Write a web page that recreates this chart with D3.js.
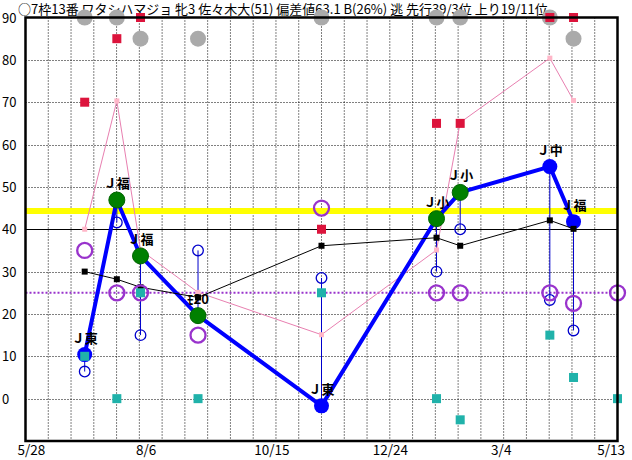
<!DOCTYPE html>
<html><head><meta charset="utf-8">
<script src="https://cdn.jsdelivr.net/npm/d3@7"></script>
<style>
html,body{margin:0;padding:0;background:#fff;}
svg{display:block;}
text{font-family:"Noto Sans CJK JP","DejaVu Sans",sans-serif;}
</style></head>
<body><svg id="c" width="632" height="460"></svg>
<script>
// ---- data ----
const titleText = "○7枠13番 ワタシハマジョ 牝3 佐々木大(51)  偏差値63.1 B(26%) 逃 先行39/3位 上り19/11位";
const raceDates = ["2022-07-02","2022-07-21","2022-08-04","2022-09-07","2022-11-19","2023-01-26","2023-02-09","2023-04-03","2023-04-17"];
const nextDate = "2023-05-13";
const raceLabels = ["Ｊ東","Ｊ福","Ｊ福","ﾓ20","Ｊ東","Ｊ小","Ｊ小","Ｊ中","Ｊ福"];
const mainValues = [10.4, 46.9, 33.7, 19.6, -1.7, 42.5, 48.7, 54.8, 41.8];
const highlighted = [false, true, true, true, false, true, true, false, false];
const blackValues = [30.0, 28.2, 26.3, 23.9, 36.1, 38.0, 36.1, 42.1, 40.1];
const pinkValues = [40.0, 70.3, 35.1, 25.1, 15.1, 35.1, 65.2, 80.4, 70.4];
const redValues = [70, 85, 90, null, 40, 65, 65, 90, 90];
const grayValues = [90, 90, 85, 85, 90, 90, 90, 90, 85];
const blueSmallValues = [6.4, 41.6, 15, 35, 28.5, 30, 40, 23.3, 16.1];
const purpleValues = [35, 25, 25, 15, 45, 25, 25, 25, 22.5, 25];   // last = next race
const tealValues = [10, 0, 25, 0, 25, 0, -5, 15, 5, 0];            // last = next race
const refYellow = 44.3, refBlack = 40, refPurple = 25;
const xTickDates = ["2022-05-28","2022-08-06","2022-10-15","2022-12-24","2023-03-04","2023-05-13"];
const xTickLabels = ["5/28","8/6","10/15","12/24","3/4","5/13"];
const yTickValues = [90,80,70,60,50,40,30,20,10,0];

// ---- scales ----
const parse = d3.utcParse("%Y-%m-%d");
const L = 25.5, R = 617.5, T = 17.5, B = 441;
const x = d3.scaleUtc().domain([parse(xTickDates[0]), parse(xTickDates[xTickDates.length-1])]).range([L, R]);
const y = d3.scaleLinear().domain([-10, 90]).range([B, T]);
const svg = d3.select("#c");

const races = raceDates.map((d,i)=>({date:parse(d), v:mainValues[i], hl:highlighted[i], label:raceLabels[i],
  black:blackValues[i], pink:pinkValues[i], red:redValues[i], gray:grayValues[i], small:blueSmallValues[i]}));
const allDates = raceDates.concat([nextDate]).map(parse);

// title (fit to width of reference)
const title = svg.append("text").attr("x",18).attr("y",14).attr("font-size",13).text(titleText);
const w0 = title.node().getComputedTextLength();
title.attr("font-size", Math.min(14, 13*530/w0));

// grid
const g = svg.append("g");
const nDiv = 26;
const dom = x.domain();
d3.range(1,nDiv).forEach(k=>{
  const t = new Date(+dom[0] + (dom[1]-dom[0])*k/nDiv);
  g.append("line").attr("x1",x(t)).attr("x2",x(t)).attr("y1",T).attr("y2",B)
    .attr("stroke","#000").attr("stroke-width",1).attr("stroke-dasharray","1,2");
});
yTickValues.filter(v=>v<90 && v!==refBlack).forEach(v=>{
  g.append("line").attr("x1",L).attr("x2",R).attr("y1",Math.round(y(v))+0.5).attr("y2",Math.round(y(v))+0.5)
    .attr("stroke","#000").attr("stroke-width",1).attr("stroke-dasharray","1,2");
});

// reference lines
svg.append("line").attr("x1",L).attr("x2",R).attr("y1",y(refYellow)).attr("y2",y(refYellow))
  .attr("stroke","#ffff00").attr("stroke-width",6);
svg.append("line").attr("x1",L).attr("x2",R).attr("y1",Math.round(y(refBlack))+0.5).attr("y2",Math.round(y(refBlack))+0.5)
  .attr("stroke","#000").attr("stroke-width",1);
svg.append("line").attr("x1",L).attr("x2",R).attr("y1",y(refPurple)).attr("y2",y(refPurple))
  .attr("stroke","#9933cc").attr("stroke-width",2).attr("stroke-dasharray","2,2");

// y labels
svg.append("g").selectAll("text").data(yTickValues).join("text")
  .attr("x",2).attr("y",d=>y(d)+5).attr("font-size",13).text(d=>d);

// x labels
svg.append("g").selectAll("text").data(xTickDates).join("text")
  .attr("x",(d,i)=> i===xTickDates.length-1 ? 625 : x(parse(d))-8)
  .attr("text-anchor",(d,i)=> i===xTickDates.length-1 ? "end":"start")
  .attr("y",455).attr("font-size",13.5).text((d,i)=>xTickLabels[i]);

// vertical thin lines from race value to small circle
svg.append("g").selectAll("line").data(races).join("line")
  .attr("x1",d=>x(d.date)).attr("x2",d=>x(d.date)).attr("y1",d=>y(d.v)).attr("y2",d=>y(d.small))
  .attr("stroke","#0000cc").attr("stroke-width",1);

// pink line
svg.append("path").datum(races).attr("fill","none").attr("stroke","#e87fb0").attr("stroke-width",1)
  .attr("d",d3.line().x(d=>x(d.date)).y(d=>y(d.pink)));
svg.append("g").selectAll("rect").data(races).join("rect")
  .attr("x",d=>x(d.date)-2.5).attr("y",d=>y(d.pink)-2.5).attr("width",5).attr("height",5).attr("fill","#ffb6c8");

// main line
svg.append("path").datum(races).attr("fill","none").attr("stroke","#0000ff").attr("stroke-width",4)
  .attr("stroke-linejoin","round")
  .attr("d",d3.line().x(d=>x(d.date)).y(d=>y(d.v)));
svg.append("g").selectAll("circle").data(races).join("circle")
  .attr("cx",d=>x(d.date)).attr("cy",d=>y(d.v)).attr("r",d=>d.hl?8:7.5)
  .attr("fill",d=>d.hl?"#008000":"#0000ff").attr("stroke",d=>d.hl?"#006400":"none").attr("stroke-width",1);

// labels
svg.append("g").selectAll("text").data(races).join("text")
  .attr("x",d=>x(d.date)).attr("y",d=>y(d.v)-12).attr("text-anchor","middle")
  .attr("font-size",13).attr("font-weight","bold").text(d=>d.label);

// black line
svg.append("path").datum(races).attr("fill","none").attr("stroke","#000").attr("stroke-width",1)
  .attr("d",d3.line().x(d=>x(d.date)).y(d=>y(d.black)));
svg.append("g").selectAll("rect").data(races).join("rect")
  .attr("x",d=>x(d.date)-3).attr("y",d=>y(d.black)-3).attr("width",6).attr("height",6).attr("fill","#000");

// small blue hollow circles
svg.append("g").selectAll("circle").data(races).join("circle")
  .attr("cx",d=>x(d.date)).attr("cy",d=>y(d.small)).attr("r",5.3)
  .attr("fill","none").attr("stroke","#0000cc").attr("stroke-width",1.3);

// purple hollow circles
svg.append("g").selectAll("circle").data(purpleValues).join("circle")
  .attr("cx",(d,i)=>x(allDates[i])).attr("cy",d=>y(d)).attr("r",7.5)
  .attr("fill","none").attr("stroke","#9933cc").attr("stroke-width",2.3);

// teal squares
svg.append("g").selectAll("rect").data(tealValues).join("rect")
  .attr("x",(d,i)=>x(allDates[i])-4.5).attr("y",d=>y(d)-4.5).attr("width",9).attr("height",9).attr("fill","#20b2aa");

// gray circles
svg.append("g").selectAll("circle").data(races).join("circle")
  .attr("cx",d=>x(d.date)).attr("cy",d=>y(d.gray)).attr("r",8).attr("fill","#aaaaaa");

// red squares
svg.append("g").selectAll("rect").data(races.filter(d=>d.red!==null)).join("rect")
  .attr("x",d=>x(d.date)-4.5).attr("y",d=>y(d.red)-4.5).attr("width",9).attr("height",9).attr("fill","#dc143c");

// frame
svg.append("rect").attr("x",L).attr("y",T).attr("width",R-L).attr("height",B-T)
  .attr("fill","none").attr("stroke","#000").attr("stroke-width",2.5);
</script></body></html>
